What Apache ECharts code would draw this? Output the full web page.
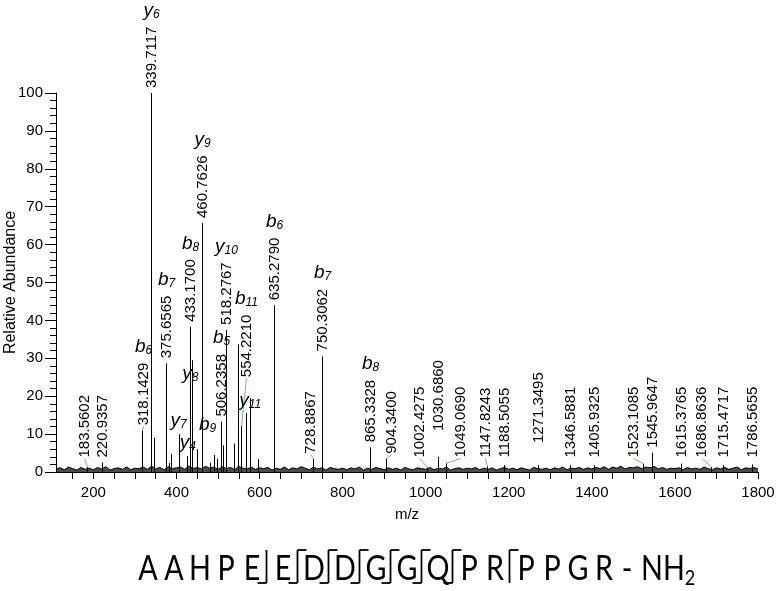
<!DOCTYPE html>
<html>
<head>
<meta charset="utf-8">
<title>MS/MS spectrum</title>
<script src="https://cdn.jsdelivr.net/npm/echarts@6.0.0/dist/echarts.min.js"></script>
<style>
  html, body { margin: 0; padding: 0; background: #fff; }
  #main { width: 777px; height: 591px; }
</style>
</head>
<body>
<div id="main"></div>
<script>
var FONT = '"Liberation Sans", Arial, sans-serif';

// peaks that carry an m/z label
var labelMz = [183.5602, 220.9357, 318.1429, 339.7117, 375.6565, 433.1700, 460.7626, 506.2358, 518.2767, 554.2210,
    635.2790, 728.8867, 750.3062, 865.3328, 904.3400, 1002.4275, 1030.6860, 1049.0690, 1147.8243, 1188.5055,
    1271.3495, 1346.5881, 1405.9325, 1523.1085, 1545.9647, 1615.3765, 1686.8636, 1715.4717, 1786.5655];
var labelAbund = [1.3, 2.5, 11, 100, 28.7, 38.3, 65.7, 13.3, 37.5, 12.1,
    44, 3.5, 30.5, 6.5, 3.5, 1.2, 4, 2.3, 1.5, 1.8,
    1.8, 1.8, 1.8, 2.2, 5.1, 2.2, 1.3, 1.8, 2];

// other visible peaks (no label)
var peakMz = [347.0, 381.0, 387.0, 405.3, 425.5, 437.8, 448.5, 481.5, 489.5, 496.5, 511.5, 537.5, 547.0, 567.5, 576.5, 595.5];
var peakAbund = [9, 2.4, 4.7, 10, 4.2, 29.5, 6, 2.4, 4.5, 3.5, 7, 7.5, 33.7, 15.5, 19.5, 3.4];

// baseline noise, one value every 10 m/z from 110 to 1800
var noiseStart = 110, noiseStep = 10;
var noiseAbund = [
    0.8, 1.1, 0.6, 1.3, 0.9, 0.5, 1.2, 0.7, 1.0, 0.6,
    1.2, 0.8, 1.4, 0.5, 0.9, 1.1, 0.7, 1.3, 0.6, 1.0,
    0.9, 1.3, 0.7, 1.5, 0.8, 1.2, 0.6, 1.4, 0.9, 1.1,
    1.3, 0.7, 1.6, 0.9, 1.2, 0.8, 1.5, 1.0, 1.3, 0.7,
    1.4, 0.9, 1.2, 0.6, 1.5, 1.0, 0.8, 1.3, 0.7, 1.1,
    0.9, 1.2, 0.5, 1.0, 0.7, 1.3, 0.6, 1.1, 0.8, 1.4,
    1.0, 0.6, 1.3, 0.8, 1.1, 0.5, 1.2, 0.9, 0.7, 1.0,
    0.6, 1.1, 0.8, 1.3, 0.5, 1.0, 0.7, 1.2, 0.9, 0.6,
    1.1, 0.7, 1.0, 0.5, 1.2, 0.8, 0.6, 1.1, 0.9, 0.7,
    1.2, 0.6, 1.0, 0.8, 1.3, 0.5, 0.9, 1.1, 0.7, 1.0,
    0.8, 1.2, 0.6, 1.0, 0.7, 1.1, 0.5, 0.9, 1.2, 0.7,
    1.0, 0.6, 1.1, 0.8, 0.5, 1.2, 0.9, 0.7, 1.0, 0.6,
    1.1, 0.8, 1.3, 0.6, 1.0, 0.9, 1.2, 0.7, 1.1, 0.8,
    1.2, 0.9, 1.4, 0.7, 1.3, 1.0, 1.5, 0.8, 1.2, 1.1,
    1.4, 0.9, 1.3, 1.1, 1.5, 0.8, 1.2, 0.7, 1.0, 0.9,
    1.1, 0.6, 1.2, 0.8, 1.0, 0.7, 1.3, 0.9, 0.6, 1.1,
    0.8, 1.2, 0.7, 1.0, 1.3, 0.6, 1.1, 0.9, 1.2, 0.8
];

// fragment ions written above a peak label
var ionName = ['y6', 'y9', 'b8', 'y10', 'b7', 'b6', 'b5', 'b11', 'b6', 'b7', 'b8'];
var ionMz = [339.7117, 460.7626, 433.1700, 518.2767, 375.6565, 318.1429, 506.2358, 554.2210, 635.2790, 750.3062, 865.3328];
// fragment ions written next to the peaks
var ionFreeName = ['y8', 'y7', 'y4', 'b9', 'y11'];
var ionFreeMz = [433.4, 405.3, 427.4, 474.8, 577.8];
var ionFreeAbund = [26, 13.6, 7.8, 12.6, 18.8];

// axis ticks
var xTickValues = [150, 200, 250, 300, 350, 400, 450, 500, 550, 600, 650, 700, 750, 800, 850, 900, 950, 1000,
    1050, 1100, 1150, 1200, 1250, 1300, 1350, 1400, 1450, 1500, 1550, 1600, 1650, 1700, 1750, 1800];
var xLabelValues = [200, 400, 600, 800, 1000, 1200, 1400, 1600, 1800];

// peptide and its observed cleavages (after residue n)
var sequence = ['A', 'A', 'H', 'P', 'E', 'E', 'D', 'D', 'G', 'G', 'Q', 'P', 'R', 'P', 'P', 'G', 'R'];
var bSites = [5, 6, 7, 8, 9, 10, 11];
var ySites = [6, 7, 8, 9, 10, 11, 13];

// label placement tweaks (px shift, or abundance for the label foot)
var labelShift = {
    '183.5602': { dx: -3 },
    '318.1429': { dx: 1 },
    '554.2210': { dx: 5, lift: 23.7 },
    '728.8867': { dx: -3 },
    '904.3400': { dx: 5 },
    '1002.4275': { dx: -8 },
    '1030.6860': { lift: 9.5 },
    '1049.0690': { dx: 14 },
    '1147.8243': { dx: -2 },
    '1271.3495': { lift: 6.3 },
    '1523.1085': { dx: -10 },
    '1686.8636': { dx: -9.5 }
};

var chart = echarts.init(document.getElementById('main'));

var measureCtx = document.createElement('canvas').getContext('2d');
function textWidth(t, size) {
    measureCtx.font = size + 'px ' + FONT;
    return measureCtx.measureText(t).width;
}

var ionRichStyle = {
    i: { fontSize: 19, fontStyle: 'italic', fontFamily: FONT, fill: '#000', lineHeight: 20 },
    s: { fontSize: 12, fontStyle: 'italic', fontFamily: FONT, fill: '#000', lineHeight: 10, verticalAlign: 'bottom' }
};
function ionRich(name) {
    return '{i|' + name.charAt(0) + '}{s|' + name.slice(1) + '}';
}

var labelData = labelMz.map(function (m, i) { return [m, labelAbund[i]]; });
var peakData = peakMz.map(function (m, i) { return [m, peakAbund[i]]; });
var noiseData = noiseAbund.map(function (v, i) { return [noiseStart + i * noiseStep, v]; });
var ionFreeData = ionFreeMz.map(function (m, i) { return [m, ionFreeAbund[i]]; });

function renderPeak(params, api) {
    var p0 = api.coord([api.value(0), 0]);
    var p1 = api.coord([api.value(0), api.value(1)]);
    var x = Math.round(p0[0]) + 0.5;
    return {
        type: 'line',
        shape: { x1: x, y1: p0[1], x2: x, y2: p1[1] },
        style: { stroke: '#000', lineWidth: 1 }
    };
}

function renderLabelled(params, api) {
    var mz = api.value(0), ab = api.value(1);
    var p0 = api.coord([mz, 0]);
    var yTop = api.coord([mz, ab])[1];
    var x = Math.round(p0[0]) + 0.5;
    var text = mz.toFixed(4);
    var shift = labelShift[text] || {};
    var lx = x + (shift.dx || 0);
    var foot = shift.lift != null ? api.coord([mz, shift.lift])[1] : Math.min(yTop, api.coord([mz, 2.5])[1]);
    var ly = foot - 5;
    var children = [
        { type: 'line', shape: { x1: x, y1: p0[1], x2: x, y2: yTop }, style: { stroke: '#000', lineWidth: 1 } },
        {
            type: 'text', x: lx, y: ly, rotation: Math.PI / 2,
            style: { text: text, font: '15px ' + FONT, fill: '#000', align: 'left', verticalAlign: 'middle' }
        }
    ];
    if (shift.dx) {
        children.push({
            type: 'line', shape: { x1: lx, y1: ly + 1, x2: x, y2: yTop },
            style: { stroke: '#6cbf6c', lineWidth: 1 }
        });
    }
    var k = ionMz.indexOf(mz);
    if (k >= 0) {
        children.push({
            type: 'text', x: lx, y: ly - textWidth(text, 15) - 6,
            style: { text: ionRich(ionName[k]), rich: ionRichStyle, align: 'center', verticalAlign: 'bottom' }
        });
    }
    return { type: 'group', children: children };
}

function renderIonFree(params, api) {
    var p = api.coord([api.value(0), api.value(1)]);
    return {
        type: 'text', x: p[0], y: p[1],
        style: { text: ionRich(ionFreeName[params.dataIndex]), rich: ionRichStyle, align: 'center', verticalAlign: 'middle' }
    };
}

// peptide sequence drawn under the plot (Lato squeezed a little to look like Calibri)
var SEQ_FONT = '35px Lato';
var SEQ_SQUEEZE = 0.82;
var seqEls = [];
var cx = 148, seqY = 569;
for (var i = 0; i < sequence.length; i++) {
    seqEls.push({
        type: 'text', x: cx, y: seqY, scaleX: SEQ_SQUEEZE,
        style: { text: sequence[i], font: SEQ_FONT, fill: '#000', align: 'center', verticalAlign: 'middle' }
    });
    var site = i + 1;
    var isB = bSites.indexOf(site) >= 0, isY = ySites.indexOf(site) >= 0;
    if (isB || isY) {
        var sx = Math.round(cx + 14) + 0.5;
        var yt = seqY - 19, yb = seqY + 14;
        seqEls.push({ type: 'line', shape: { x1: sx, y1: yt, x2: sx, y2: yb }, style: { stroke: '#000', lineWidth: 1.8 } });
        if (isB) seqEls.push({ type: 'line', shape: { x1: sx, y1: yb, x2: sx - 9, y2: yb }, style: { stroke: '#000', lineWidth: 1.8 } });
        if (isY) seqEls.push({ type: 'line', shape: { x1: sx, y1: yt, x2: sx + 9, y2: yt }, style: { stroke: '#000', lineWidth: 1.8 } });
        cx += 31;
    } else {
        cx += 26;
    }
}
seqEls.push({
    type: 'text', x: cx - 3, y: seqY, scaleX: SEQ_SQUEEZE,
    style: { text: '-', font: SEQ_FONT, fill: '#000', align: 'center', verticalAlign: 'middle' }
});
seqEls.push({
    type: 'text', x: cx + 11, y: seqY, scaleX: SEQ_SQUEEZE,
    style: {
        text: '{n|NH}{s|2}', align: 'left', verticalAlign: 'middle',
        rich: {
            n: { font: SEQ_FONT, fill: '#000', lineHeight: 40 },
            s: { font: '22px Lato', fill: '#000', lineHeight: 16, verticalAlign: 'bottom' }
        }
    }
});

var option = {
    animation: false,
    backgroundColor: '#fff',
    grid: { left: 56, right: 19, top: 93, bottom: 119, outerBoundsMode: 'none' },
    xAxis: {
        type: 'value',
        min: 110,
        max: 1800,
        name: 'm/z',
        nameLocation: 'middle',
        nameGap: 35,
        nameMoveOverlap: false,
        nameTextStyle: { fontFamily: FONT, fontSize: 15, color: '#000' },
        axisLine: { onZero: false, lineStyle: { color: '#000', width: 1 } },
        axisTick: { show: true, customValues: xTickValues, length: 7, lineStyle: { color: '#000' } },
        axisLabel: {
            customValues: xLabelValues, fontFamily: FONT, fontSize: 15, color: '#000', margin: 13,
            formatter: function (v) { return String(v); }
        },
        splitLine: { show: false }
    },
    yAxis: {
        type: 'value',
        min: 0,
        max: 100,
        interval: 10,
        name: 'Relative Abundance',
        nameLocation: 'middle',
        nameGap: 37,
        nameMoveOverlap: false,
        nameTextStyle: { fontFamily: FONT, fontSize: 16, color: '#000' },
        axisLine: { show: true, lineStyle: { color: '#000', width: 1 } },
        axisTick: { show: true, length: 11, lineStyle: { color: '#000' } },
        minorTick: { show: true, splitNumber: 5, length: 6, lineStyle: { color: '#000' } },
        axisLabel: { fontFamily: FONT, fontSize: 15, color: '#000', margin: 13 },
        splitLine: { show: false }
    },
    series: [
        {
            name: 'noise',
            type: 'line',
            data: noiseData,
            symbol: 'none',
            silent: true,
            lineStyle: { color: '#000', width: 1 },
            areaStyle: { color: '#000', opacity: 0.7 },
            z: 1
        },
        {
            name: 'peaks',
            type: 'custom',
            data: peakData,
            renderItem: renderPeak,
            silent: true,
            z: 2
        },
        {
            name: 'labelled',
            type: 'custom',
            data: labelData,
            renderItem: renderLabelled,
            silent: true,
            z: 3
        },
        {
            name: 'ions',
            type: 'custom',
            data: ionFreeData,
            renderItem: renderIonFree,
            silent: true,
            z: 4
        }
    ],
    graphic: { elements: seqEls }
};

chart.setOption(option);
</script>
</body>
</html>
